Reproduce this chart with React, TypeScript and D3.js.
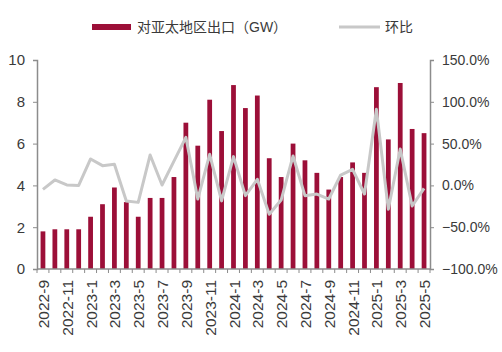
import React, { useRef, useEffect } from "react";
import * as d3 from "d3";

const months = [
  "2022-9", "2022-10", "2022-11", "2022-12",
  "2023-1", "2023-2", "2023-3", "2023-4", "2023-5", "2023-6", "2023-7", "2023-8", "2023-9", "2023-10", "2023-11", "2023-12",
  "2024-1", "2024-2", "2024-3", "2024-4", "2024-5", "2024-6", "2024-7", "2024-8", "2024-9", "2024-10", "2024-11", "2024-12",
  "2025-1", "2025-2", "2025-3", "2025-4", "2025-5",
];
const exportGW = [
  1.8, 1.9, 1.9, 1.9,
  2.5, 3.1, 3.9, 3.2, 2.5, 3.4, 3.4, 4.4, 7.0, 5.9, 8.1, 6.6,
  8.8, 7.7, 8.3, 5.3, 4.4, 6.0, 5.2, 4.6, 3.8, 4.4, 5.1, 4.6,
  8.7, 6.2, 8.9, 6.7, 6.5,
];
const momPct = [
  -4.7, 6.5, 0.5, 0,
  31.6, 23.6, 25.2, -18.7, -20.3, 36.4, 0.5, 29, 57.5, -16.3, 37.2, -18.5,
  34.4, -12.3, 7.3, -34.6, -17.5, 35.2, -12.3, -10.3, -16.3, 12.4, 19.2, -10.3,
  91, -28.6, 43.5, -24.6, -3.5,
];
const leftTicks = [0, 2, 4, 6, 8, 10];
const rightTicks = [-100, -50, 0, 50, 100, 150];

const W = 502;
const H = 352;
const m = { left: 37, right: 72, top: 60, bottom: 83 };
const font = "'Liberation Sans', Arial, 'Noto Sans CJK SC', sans-serif";
const textColor = "#3a3a3a";

function App() {
  const svgRef = useRef(null);

  useEffect(() => {
    document.body.style.margin = "0";
    const svg = d3.select(svgRef.current);
    svg.selectAll("*").remove();

    const x = d3.scaleBand().domain(months).range([m.left, W - m.right]).paddingInner(0.6).paddingOuter(0.3);
    const y = d3.scaleLinear().domain([0, 10]).range([H - m.bottom, m.top]);
    const y2 = d3.scaleLinear().domain([-100, 150]).range([H - m.bottom, m.top]);
    const axisColor = "#8c8c8c";

    // bars
    svg.append("g")
      .selectAll("rect")
      .data(exportGW)
      .join("rect")
      .attr("x", (d, i) => x(months[i]))
      .attr("width", x.bandwidth())
      .attr("y", (d) => y(d))
      .attr("height", (d) => y(0) - y(d))
      .attr("fill", "#9c0f38");

    // line
    const line = d3.line()
      .x((d, i) => x(months[i]) + x.bandwidth() / 2)
      .y((d) => y2(d));
    svg.append("path")
      .datum(momPct)
      .attr("d", line)
      .attr("fill", "none")
      .attr("stroke", "#c8c8c8")
      .attr("stroke-width", 3)
      .attr("stroke-linejoin", "round");

    // left axis
    const gl = svg.append("g")
      .attr("transform", `translate(${m.left},0)`)
      .call(d3.axisLeft(y).tickValues(leftTicks).tickSize(4).tickPadding(8));
    // right axis
    const gr = svg.append("g")
      .attr("transform", `translate(${W - m.right},0)`)
      .call(d3.axisRight(y2).tickValues(rightTicks).tickSize(4).tickPadding(8).tickFormat((d) => `${d3.format(".1f")(d)}%`));
    // bottom axis: ticks at band boundaries
    const step = x.step();
    const bounds = d3.range(months.length + 1).map((i) => m.left + (i === 0 ? 0 : i === months.length ? W - m.right - m.left : x(months[i]) - (step - x.bandwidth()) / 2 - m.left));
    const gb = svg.append("g");
    gb.append("line")
      .attr("x1", m.left).attr("x2", W - m.right)
      .attr("y1", y(0)).attr("y2", y(0))
      .attr("stroke", axisColor).attr("stroke-width", 1.5);
    gb.selectAll("line.tk")
      .data(bounds)
      .join("line")
      .attr("class", "tk")
      .attr("x1", (d) => d).attr("x2", (d) => d)
      .attr("y1", y(0)).attr("y2", y(0) + 4)
      .attr("stroke", axisColor);
    gb.selectAll("text")
      .data(months.filter((d, i) => i % 2 === 0))
      .join("text")
      .attr("transform", (d) => `translate(${x(d) + x.bandwidth() / 2 + 6},${y(0) + 11}) rotate(-90)`)
      .attr("text-anchor", "end")
      .attr("font-family", font)
      .attr("font-size", 15.5)
      .attr("fill", textColor)
      .text((d) => d);

    [gl, gr].forEach((g) => {
      g.select(".domain").attr("stroke", axisColor).attr("stroke-width", 1.5);
      g.selectAll(".tick line").attr("stroke", axisColor);
      g.selectAll(".tick text").attr("font-family", font).attr("font-size", 14).attr("fill", textColor);
    });
    gl.selectAll(".tick text").attr("font-size", 15);

    // legend
    const lg = svg.append("g").attr("font-family", font).attr("font-size", 14).attr("fill", textColor);
    lg.append("rect").attr("x", 92).attr("y", 24).attr("width", 39).attr("height", 6).attr("fill", "#9c0f38");
    lg.append("text").attr("x", 137).attr("y", 32).text("对亚太地区出口（GW）");
    lg.append("line").attr("x1", 339).attr("x2", 380).attr("y1", 27).attr("y2", 27).attr("stroke", "#c8c8c8").attr("stroke-width", 3);
    lg.append("text").attr("x", 385).attr("y", 32).text("环比");
  }, []);

  return <svg ref={svgRef} width={W} height={H} style={{ display: "block", background: "#fff" }} />;
}

export default App;
